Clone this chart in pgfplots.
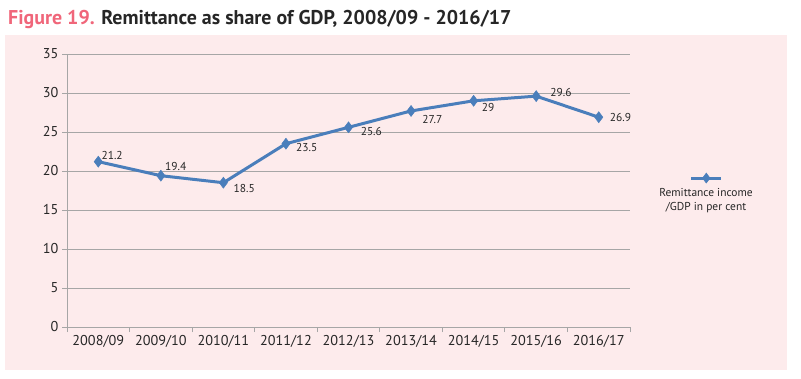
\documentclass[border=0pt]{standalone}
\usepackage{pgfplots}
\pgfplotsset{compat=1.18}
\usepackage{pgfplotstable}
\usepackage{fontspec}
\setmainfont{PT Sans}
\definecolor{bgpink}{HTML}{FDEBEC}
\definecolor{figred}{HTML}{F0667A}
\definecolor{lineblue}{HTML}{4A7EBB}
\definecolor{gridgray}{HTML}{A6A6A6}
\definecolor{txt}{HTML}{262626}
\pgfplotstableread{
x y dx dy
0 21.2 3 6
1 19.4 4 9
2 18.5 10 -6
3 23.5 10 -4
4 25.6 12 -4
5 27.7 11 -9
6 29 8 -7
7 29.6 14 4
8 26.9 11 0
}\remit
\begin{document}
\begin{tikzpicture}[x=1bp,y=1bp]
\fill[white] (0,0) rectangle (801,-378);
\fill[bgpink] (5,-35) rectangle (787,-370);
\node[anchor=base west, inner sep=0, text=txt, font=\fontsize{20}{24}\selectfont\bfseries] at (8,-24) {\textcolor{figred}{Figure 19.} Remittance as share of GDP, 2008/09 - 2016/17};
\begin{axis}[
  at={(67bp,-327bp)}, anchor=south west,
  scale only axis, width=563bp, height=273bp,
  xmin=-0.5, xmax=8.5, ymin=0, ymax=35,
  xtick={0,...,8},
  xticklabels={2008/09,2009/10,2010/11,2011/12,2012/13,2013/14,2014/15,2015/16,2016/17},
  minor xtick={-0.5,0.5,...,8.5},
  ytick={0,5,...,35},
  axis lines*=left,
  axis line style={gridgray, line width=0.8bp},
  ymajorgrids, grid style={gridgray, line width=0.8bp},
  tick align=outside,
  major tick length=5bp, minor tick length=5bp,
  major x tick style={draw=none},
  minor x tick style={gridgray, line width=0.8bp},
  ytick style={gridgray, line width=0.8bp},
  ticklabel style={font=\fontsize{14.3}{16}\selectfont, text=txt},
  /pgf/number format/assume math mode=true,
  legend style={at={(1.135,0.465)}, anchor=center, draw=none, fill=none,
    font=\fontsize{11.5}{14}\selectfont, text=txt, cells={align=center}},
  legend image code/.code={
    \draw[overlay, lineblue, line width=3bp] (34bp,22bp) -- (64bp,22bp);
    \draw[overlay, lineblue] plot[mark=diamond*, mark size=5bp, mark options={fill=lineblue, draw=lineblue, line width=0.5bp}] coordinates {(49bp,22bp)};
  },
  clip=false,
]
\addplot[lineblue, line width=3bp, mark=diamond*, mark size=5.5bp,
  mark options={fill=lineblue, draw=lineblue, line width=0.5bp},
  visualization depends on={\thisrow{dx} \as \dx},
  visualization depends on={\thisrow{dy} \as \dy},
  nodes near coords,
  nodes near coords style={font=\fontsize{11.5}{13}\selectfont, text=txt, anchor=west, inner sep=0pt, xshift=\dx*1bp, yshift=\dy*1bp},
  point meta=explicit symbolic]
  table[x=x, y=y, meta=y] {\remit};
\addlegendentry{Remittance income\\/GDP in per cent}
\end{axis}
\end{tikzpicture}
\end{document}
